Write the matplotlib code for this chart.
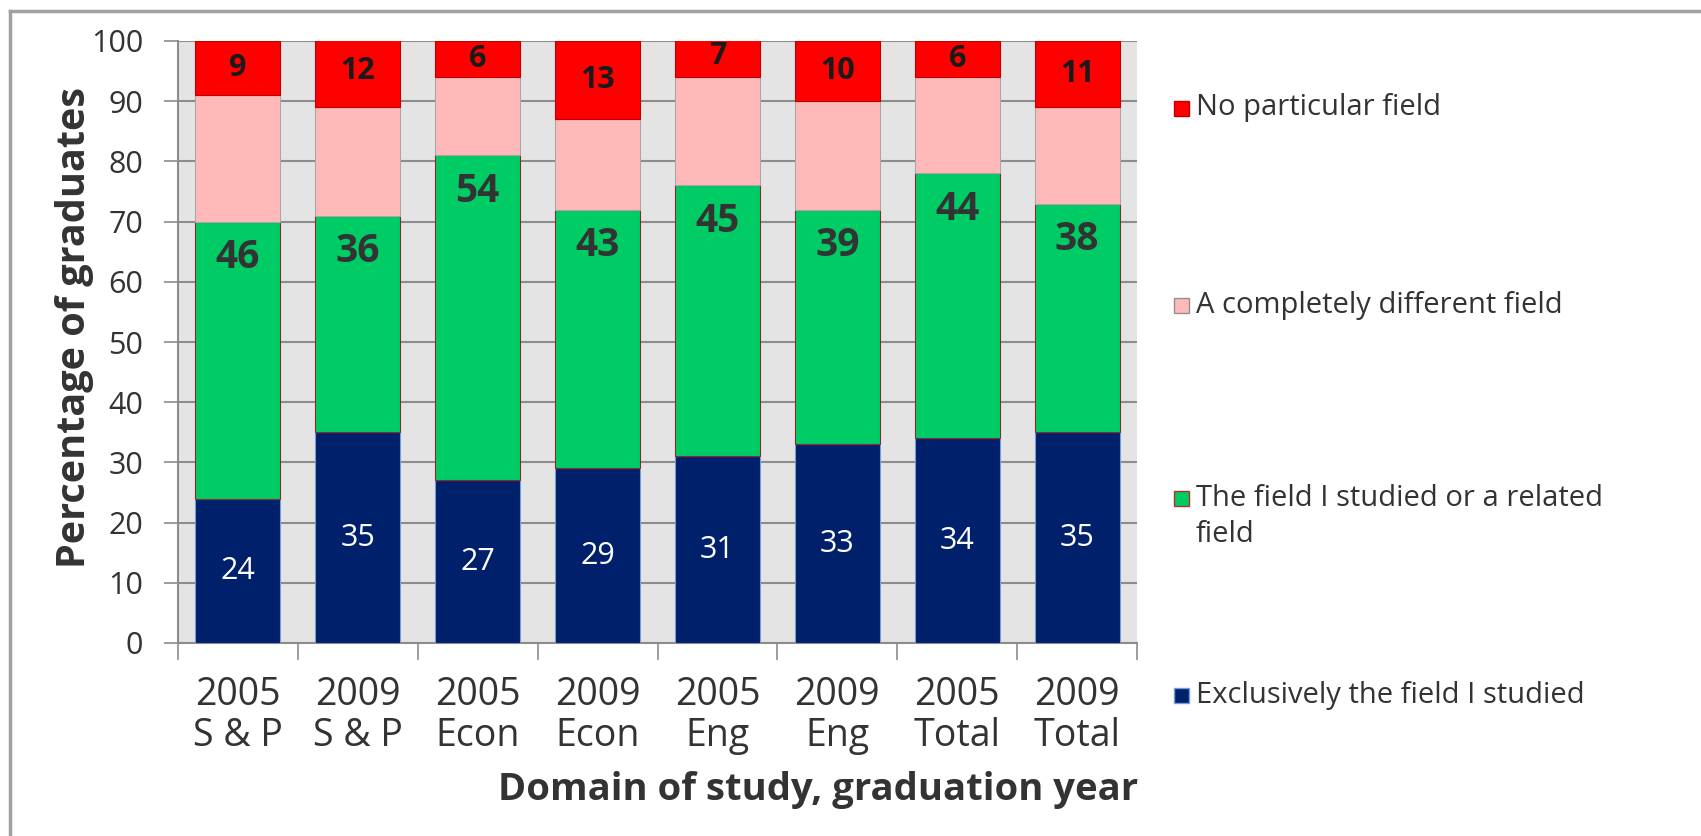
import matplotlib
matplotlib.use("Agg")
import matplotlib.pyplot as plt
from matplotlib.patches import Rectangle
from matplotlib.lines import Line2D
import numpy as np

plt.rcParams['font.family'] = ['Open Sans', 'DejaVu Sans']

categories = ["2005\nS & P", "2009\nS & P", "2005\nEcon", "2009\nEcon",
              "2005\nEng", "2009\nEng", "2005\nTotal", "2009\nTotal"]
exclusive = [24, 35, 27, 29, 31, 33, 34, 35]
related = [46, 36, 54, 43, 45, 39, 44, 38]
different = [21, 18, 13, 15, 18, 18, 16, 16]
no_particular = [9, 12, 6, 13, 7, 10, 6, 11]

series_names = ["Exclusively the field I studied",
                "The field I studied or a related\nfield",
                "A completely different field",
                "No particular field"]

W, H = 1701, 836
fig = plt.figure(figsize=(W / 100, H / 100), dpi=100)
fig.patch.set_facecolor('white')

def fx(px):
    return px / W

def fy(py):
    return 1 - py / H

ax = fig.add_axes([fx(178), fy(643), fx(1137) - fx(178), fy(41) - fy(643)])
ax.set_facecolor('#E4E4E4')

x = np.arange(len(categories))
bw = 0.71
c_navy, c_green, c_pink, c_red = '#00206B', '#00CC66', '#FFB9B9', '#FF0000'

exc = np.array(exclusive)
rel = np.array(related)
dif = np.array(different)
nop = np.array(no_particular)
top3 = exc + rel + dif

ax.bar(x, exc, bw, color=c_navy, edgecolor='#6FA0D8', linewidth=0.8, zorder=3)
ax.bar(x, rel, bw, bottom=exc, color=c_green, edgecolor='#8B2A2A', linewidth=0.8, zorder=3)
ax.bar(x, dif, bw, bottom=exc + rel, color=c_pink, edgecolor='#A8A8A8', linewidth=0.8, zorder=3)
ax.bar(x, nop, bw, bottom=top3, color=c_red, edgecolor='#C00000', linewidth=0.8, zorder=3)

# labels
for i in range(len(x)):
    ax.text(x[i], exc[i] / 2, str(exclusive[i]), ha='center', va='center',
            color='white', fontsize=22, zorder=4)
    ax.text(x[i], exc[i] + rel[i] - 6, str(related[i]), ha='center', va='center',
            color='#333333', fontsize=28, fontweight='bold', zorder=4)
    ax.text(x[i], top3[i] + nop[i] / 2, str(no_particular[i]), ha='center', va='center',
            color='#1A1A1A', fontsize=22, fontweight='bold', zorder=4)

ax.set_xlim(-0.5, len(x) - 0.5)
ax.set_ylim(0, 100)
ax.set_yticks(np.arange(0, 101, 10))
ax.tick_params(axis='y', labelsize=22, colors='#333333', length=10, width=1.2,
               color='#8C8C8C', pad=15)
ax.yaxis.grid(True, color='#8C8C8C', linewidth=1.5, zorder=1)
ax.set_axisbelow(True)

ax.set_xticks(x)
ax.set_xticklabels(categories)
ax.tick_params(axis='x', which='major', length=0, labelsize=27, colors='#333333', pad=24)
ax.set_xticks(np.arange(-0.5, len(x), 1), minor=True)
ax.tick_params(axis='x', which='minor', length=12, width=1.2, color='#8C8C8C')
for lbl in ax.get_xticklabels():
    lbl.set_linespacing(1.08)

for s in ['top', 'right']:
    ax.spines[s].set_visible(False)
for s in ['left', 'bottom']:
    ax.spines[s].set_color('#8C8C8C')
    ax.spines[s].set_linewidth(1.5)

fig.text(fx(74), fy(328), "Percentage of graduates", rotation=90, ha='center', va='center',
         fontsize=28.5, fontweight='bold', color='#333333')
fig.text(fx(818), fy(790), "Domain of study, graduation year", ha='center', va='center',
         fontsize=27.5, fontweight='bold', color='#333333')

# legend
leg_items = [
    (series_names[3], c_red, '#C00000', 108),
    (series_names[2], c_pink, '#909090', 305),
    (series_names[1], c_green, '#B03030', 498),
    (series_names[0], c_navy, '#6FA0D8', 695),
]
for name, fc, ec, ypx in leg_items:
    fig.patches.append(Rectangle((fx(1174), fy(ypx + 8)), fx(15), 15 / H,
                                 facecolor=fc, edgecolor=ec, linewidth=1,
                                 transform=fig.transFigure, figure=fig))
    for k, line in enumerate(name.split('\n')):
        fig.text(fx(1196), fy(ypx + 37 * k), line, ha='left', va='center',
                 fontsize=21, color='#333333')

# outer border (top and left visible)
fig.add_artist(Line2D([fx(10), 1], [fy(11), fy(11)], color='#A0A0A0', linewidth=2.5,
                      transform=fig.transFigure))
fig.add_artist(Line2D([fx(10), fx(10)], [fy(11), 0], color='#A0A0A0', linewidth=2.5,
                      transform=fig.transFigure))

fig.savefig('out.png', dpi=100, facecolor='white')
